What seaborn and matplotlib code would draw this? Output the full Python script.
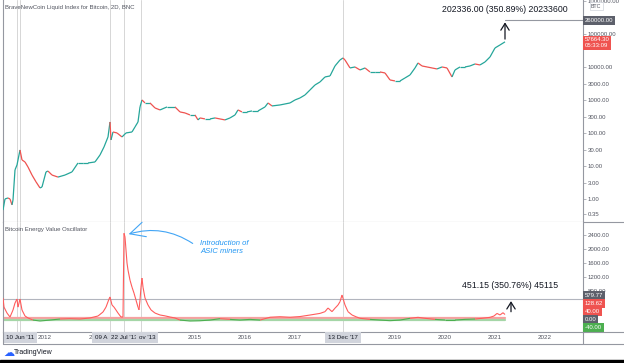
import numpy as np
import pandas as pd
import matplotlib
matplotlib.use("Agg")
import matplotlib.pyplot as plt
import matplotlib.transforms as mtransforms
from matplotlib.collections import LineCollection
from matplotlib.lines import Line2D
from matplotlib.patches import Rectangle
import seaborn as sns

sns.set_theme(style="white")
plt.rcParams['font.family'] = ['Liberation Sans', 'DejaVu Sans']

# price (BNC liquid index, log scale), time in decimal years
price_t = [2011.16, 2011.20, 2011.26, 2011.30, 2011.34, 2011.36, 2011.40, 2011.44, 2011.50, 2011.54,
           2011.60, 2011.66, 2011.74, 2011.82, 2011.90, 2011.94, 2012.02, 2012.06, 2012.14, 2012.26,
           2012.40, 2012.54, 2012.66, 2012.76, 2012.86, 2013.00, 2013.10, 2013.18, 2013.26, 2013.30,
           2013.32, 2013.36, 2013.44, 2013.54, 2013.62, 2013.74, 2013.80, 2013.86, 2013.90, 2013.94,
           2014.00, 2014.10, 2014.20, 2014.30, 2014.44, 2014.60, 2014.70, 2014.80, 2014.90, 2015.00,
           2015.06, 2015.10, 2015.20, 2015.30, 2015.40, 2015.50, 2015.60, 2015.70, 2015.80, 2015.86,
           2015.94, 2016.04, 2016.14, 2016.26, 2016.40, 2016.46, 2016.54, 2016.70, 2016.90, 2017.00,
           2017.10, 2017.20, 2017.30, 2017.40, 2017.50, 2017.60, 2017.70, 2017.80, 2017.90, 2017.96,
           2018.00, 2018.10, 2018.20, 2018.30, 2018.40, 2018.50, 2018.60, 2018.70, 2018.80, 2018.90,
           2019.00, 2019.10, 2019.20, 2019.30, 2019.40, 2019.46, 2019.54, 2019.64, 2019.74, 2019.84,
           2019.94, 2020.04, 2020.14, 2020.20, 2020.30, 2020.40, 2020.50, 2020.60, 2020.70, 2020.80,
           2020.90, 2021.00, 2021.10, 2021.20]
price_v = [0.46, 1.0, 1.07, 1.0, 0.66, 0.93, 7.6, 10.7, 30.5, 15.2,
           13.2, 9.3, 5.3, 3.3, 2.15, 2.3, 6.6, 7.0, 5.3, 4.6,
           5.3, 6.6, 12.3, 12.3, 12.3, 13.2, 21.5, 37.6, 75.6, 215,
           61.4, 107, 100, 75.6, 100, 107, 152, 215, 614, 1000,
           811, 811, 572, 498, 614, 614, 433, 404, 351, 351,
           248, 285, 266, 266, 285, 266, 248, 285, 351, 498,
           433, 433, 464, 464, 614, 811, 658, 705, 811, 1000,
           1150, 1418, 2009, 2848, 3510, 4977, 5337, 10722, 16298, 18738,
           16298, 9326, 10000, 8111, 9326, 7054, 7054, 7054, 6579, 4036,
           3765, 3765, 4642, 5722, 9326, 13219, 10722, 10000, 9326, 8697,
           10000, 9326, 4977, 8111, 10000, 10000, 10722, 12328, 11497, 14175,
           20092, 37650, 46416, 57664.30]

# Bitcoin Energy Value Oscillator
osc_t = [2011.16, 2011.18, 2011.24, 2011.30, 2011.36, 2011.40, 2011.44, 2011.46, 2011.50, 2011.54,
         2011.60, 2011.66, 2011.76, 2011.90, 2012.10, 2012.30, 2012.50, 2012.70, 2012.90, 2013.06,
         2013.16, 2013.22, 2013.28, 2013.30, 2013.34, 2013.38, 2013.42, 2013.46, 2013.52, 2013.56,
         2013.58, 2013.60, 2013.62, 2013.64, 2013.66, 2013.70, 2013.74, 2013.78, 2013.82, 2013.86,
         2013.88, 2013.90, 2013.92, 2013.94, 2013.96, 2014.00, 2014.06, 2014.12, 2014.20, 2014.30,
         2014.40, 2014.50, 2014.60, 2014.70, 2014.90, 2015.10, 2015.30, 2015.50, 2015.70, 2015.90,
         2016.10, 2016.30, 2016.50, 2016.70, 2016.90, 2017.10, 2017.30, 2017.50, 2017.60, 2017.66,
         2017.74, 2017.80, 2017.86, 2017.90, 2017.94, 2017.96, 2018.00, 2018.06, 2018.14, 2018.22,
         2018.30, 2018.50, 2018.70, 2018.90, 2019.10, 2019.30, 2019.46, 2019.60, 2019.80, 2020.00,
         2020.20, 2020.40, 2020.60, 2020.74, 2020.90, 2020.98, 2021.04, 2021.10, 2021.16, 2021.20]
osc_v = [600, 340, 170, 57, 257, 457, 570, 340, 570, 257,
         86, 30, -30, -57, -30, 0, 10, 0, 30, 86,
         200, 340, 570, 630, 400, 340, 257, 170, 57, 60,
         2450, 2340, 1970, 1600, 1400, 1110, 910, 740, 540, 340,
         260, 540, 910, 1170, 910, 600, 400, 260, 170, 115,
         90, 57, 30, -30, -57, -50, -30, 10, -10, -30,
         -10, -30, 50, 65, 50, 70, 114, 160, 210, 315,
         210, 310, 400, 495, 686, 590, 400, 210, 115, 65,
         20, -10, -30, -48, -30, 20, 48, 20, -10, -30,
         -30, -10, 0, 20, 48, 86, 160, 115, 180, 128.62]

price_ticks = [0.35, 1, 3, 10, 30, 100, 300, 1000, 3000, 10000, 100000, 1000000]
osc_ticks = [800, 1200, 1600, 2000, 2400]
# year labels that are not hidden behind the date boxes
year_ticks = [2012, 2015, 2016, 2017, 2019, 2020, 2021, 2022]
event_t = [2011.44, 2011.50, 2013.30, 2013.58, 2013.92, 2017.96]
# visible parts of the crosshair date boxes (they overlap each other on the chart)
event_labels = ["10 Jun '11", "09 A", "22 Jul '13", "ov '13", "13 Dec '17"]
event_label_t = [2011.50, 2013.12, 2013.58, 2014.04, 2017.96]

last_price = 57664.30
target_price = 260000.00
last_osc = 128.62
target_osc = 579.77

UP = '#26a69a'
DOWN = '#ef5350'
GREY = '#50535e'
LINE = '#9598a1'

W, H = 624, 363
fig = plt.figure(figsize=(W / 100, H / 100), dpi=100)
fig.patch.set_facecolor('white')
ax1 = fig.add_axes([3 / W, 1 - 222 / H, 580 / W, 222 / H])
ax2 = fig.add_axes([3 / W, 1 - 332 / H, 580 / W, 110 / H])
xlim = (2011.16, 2022.76)


def coloured_segments(ax, t, v, col_up, col_down, lw, by_sign=False):
    pts = np.column_stack([t, v])
    segs = np.stack([pts[:-1], pts[1:]], axis=1)
    if by_sign:
        cols = [col_up if (a + b) / 2 >= 0 else col_down for a, b in zip(v[:-1], v[1:])]
    else:
        cols = [col_up if b >= a else col_down for a, b in zip(v[:-1], v[1:])]
    ax.add_collection(LineCollection(segs, colors=cols, linewidths=lw, zorder=3))


# ---- price panel
ax1.set_yscale('log')
coloured_segments(ax1, np.array(price_t), np.array(price_v), UP, DOWN, 0.9)
ax1.set_xlim(*xlim)
ax1.set_ylim(0.2, 1.07e6)
ax1.yaxis.tick_right()
ax1.set_yticks(price_ticks)
ax1.set_yticklabels([f"{v:.2f}" for v in price_ticks])
ax1.yaxis.set_minor_locator(matplotlib.ticker.NullLocator())
ax1.set_xticks([])
ax1.tick_params(axis='y', length=2, width=0.5, color=LINE, labelsize=4.3, labelcolor=GREY, pad=1.5)
ax1.spines['top'].set_visible(False)
for s in ['left', 'right', 'bottom']:
    ax1.spines[s].set_color(LINE)
    ax1.spines[s].set_linewidth(0.8)
ax1.text(0.004, 0.965, "BraveNewCoin Liquid Index for Bitcoin, 2D, BNC", transform=ax1.transAxes,
         fontsize=4.3, color=GREY, va='center')

# measure tool on price
ax1.annotate('', xy=(2021.20, target_price * 1.05), xytext=(2021.20, last_price),
             arrowprops=dict(arrowstyle='->,head_length=0.4,head_width=0.25', color='#131722', lw=0.9))
ax1.plot([2021.20, xlim[1]], [target_price, target_price], color='#9598a1', lw=0.8, clip_on=False)
ax1.text(0.866, 0.958, "202336.00 (350.89%) 20233600", transform=ax1.transAxes,
         fontsize=6.3, color='#131722', ha='center', va='center')

# price scale labels
bl1 = mtransforms.blended_transform_factory(ax1.transAxes, ax1.transData)
ax1.text(1.014, 0.972, "BTC", transform=ax1.transAxes, fontsize=3.8, color=GREY, va='center', ha='left',
         zorder=10, bbox=dict(boxstyle='square,pad=0.25', fc='white', ec='#d1d4dc', lw=0.5))
ax1.text(1.003, target_price, "260000.00", transform=bl1,
         fontsize=4.3, color='white', va='center', ha='left', zorder=10,
         bbox=dict(boxstyle='square,pad=0.3', fc='#5d606b', ec='none'))
ax1.text(1.003, last_price * 0.93, "57664.30\n05:33:09", transform=bl1,
         fontsize=4.3, color='white', va='center', ha='left', zorder=10, linespacing=1.2,
         bbox=dict(boxstyle='square,pad=0.25', fc=DOWN, ec='none'))

# ---- oscillator panel
t_arr = np.array(osc_t)
v_arr = np.array(osc_v)
band = pd.DataFrame({'t': np.concatenate([t_arr, t_arr]),
                     'v': np.concatenate([np.full_like(v_arr, 40.0), np.full_like(v_arr, -40.0)]),
                     'side': ['up'] * len(t_arr) + ['down'] * len(t_arr)})
sns.lineplot(data=band, x='t', y='v', hue='side', palette={'up': '#f7a1a1', 'down': '#a5d6a7'},
             lw=1.6, legend=False, ax=ax2, zorder=2)
coloured_segments(ax2, t_arr, v_arr, '#ff5c5c', '#4caf50', 0.8, by_sign=True)
ax2.axhline(target_osc, color='#b2b5be', lw=0.8, zorder=1)
ax2.set_xlim(*xlim)
ax2.set_ylim(-371, 2771)
ax2.set_xlabel('')
ax2.set_ylabel('')
ax2.yaxis.tick_right()
ax2.set_yticks(osc_ticks)
ax2.set_yticklabels([f"{v:.2f}" for v in osc_ticks])
ax2.set_xticks(year_ticks)
ax2.set_xticklabels([str(y) for y in year_ticks])
ax2.tick_params(axis='y', length=2, width=0.5, color=LINE, labelsize=4.3, labelcolor=GREY, pad=1.5)
ax2.tick_params(axis='x', length=0, labelsize=4.5, labelcolor=GREY, pad=2.2)
ax2.spines['top'].set_visible(False)
for s in ['left', 'right', 'bottom']:
    ax2.spines[s].set_color(LINE)
    ax2.spines[s].set_linewidth(0.8)
ax2.text(0.004, 0.935, "Bitcoin Energy Value Oscillator", transform=ax2.transAxes,
         fontsize=4.3, color=GREY, va='center')

# measure tool on oscillator
ax2.annotate('', xy=(2021.32, target_osc + 10), xytext=(2021.32, last_osc),
             arrowprops=dict(arrowstyle='->,head_length=0.4,head_width=0.25', color='#131722', lw=0.9))
ax2.text(0.874, 0.427, "451.15 (350.76%) 45115", transform=ax2.transAxes,
         fontsize=6.3, color='#131722', ha='center', va='center')

# ASIC annotation
ax2.annotate('', xy=(2013.62, 2400), xytext=(2015.0, 2114),
             arrowprops=dict(arrowstyle='->,head_length=0.9,head_width=0.45', color='#42a5f5', lw=0.8,
                             connectionstyle='arc3,rad=0.25'))
ax2.text(2015.10, 2043, "Introduction of\nASIC miners", fontsize=5.5, color='#2196f3',
         style='italic', ha='left', va='center', linespacing=1.05)

# oscillator scale labels (stacked like the platform does)
osc_boxes = [("579.77", 0.332, '#5d606b'), ("128.62", 0.259, DOWN), ("40.00", 0.186, DOWN),
             ("0.00", 0.118, '#5d606b'), ("-40.00", 0.041, '#4caf50')]
for lab, yy, fc in osc_boxes:
    ax2.text(1.003, yy, lab, transform=ax2.transAxes, fontsize=4.3, color='white', va='center',
             ha='left', zorder=10, bbox=dict(boxstyle='square,pad=0.3', fc=fc, ec='none'))

# event lines
for t in event_t:
    ax1.axvline(t, color='#d6d6d6', lw=0.7, zorder=0)
    ax2.axvline(t, color='#d6d6d6', lw=0.7, zorder=0)

blend2 = mtransforms.blended_transform_factory(ax2.transData, ax2.transAxes)
# the "2" of the 2013 label peeks out from under the 09 Apr box
ax2.text(2012.90, -0.048, "2", transform=blend2, fontsize=4.5, color=GREY, ha='center', va='center',
         clip_on=False)
for lab, t in zip(event_labels, event_label_t):
    ax2.text(t, -0.048, lab, transform=blend2, fontsize=4.5, color='#131722', ha='center', va='center',
             zorder=10, clip_on=False,
             bbox=dict(boxstyle='square,pad=0.5', fc='#d1d4dc', ec='none'))

# frame lines
def fline(x0, x1, y0, y1, c=LINE, lw=0.8):
    fig.add_artist(Line2D([x0 / W, x1 / W], [1 - y0 / H, 1 - y1 / H], color=c, lw=lw))

fline(583, W, 222, 222)
fline(583, W, 332, 332)
fline(3, W, 343.5, 343.5)
fline(583, 583, 332, 343.5)
fline(3, 3, 332, 343.5)

# TradingView logo and dark bottom edge
fig.text(3 / W, 1 - 353 / H, "\u2601", family='DejaVu Sans', fontsize=8, color='#2962ff', va='center')
fig.text(14 / W, 1 - 353 / H, "TradingView", fontsize=5, color='#131722', va='center')
fig.add_artist(Rectangle((0, 0), 1, 3 / H, transform=fig.transFigure, color='black'))

fig.savefig('out.png', dpi=100, facecolor='white')
